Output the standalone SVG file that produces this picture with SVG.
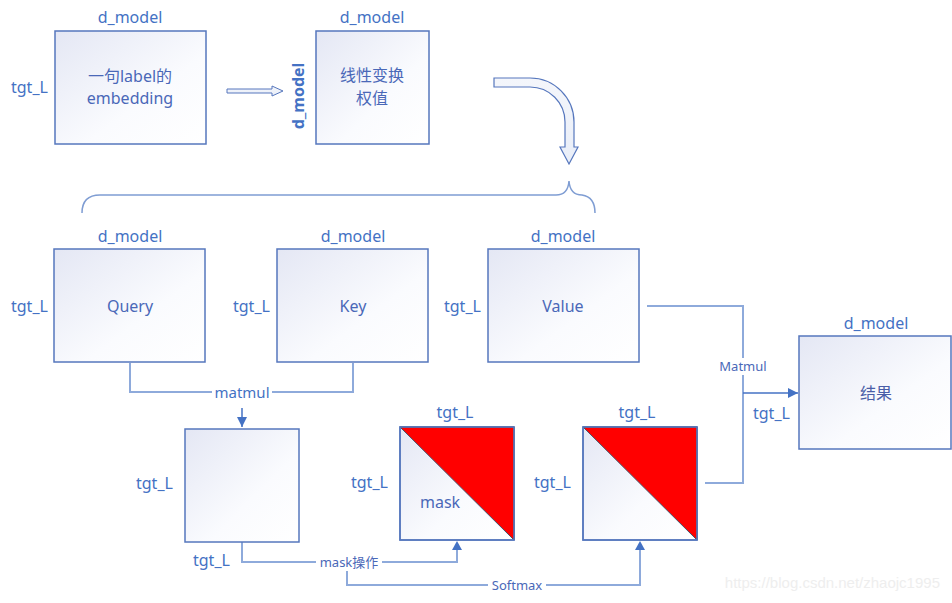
<svg xmlns="http://www.w3.org/2000/svg" width="952" height="603" viewBox="0 0 952 603">
<defs>
<linearGradient id="bg" x1="0" y1="0" x2="1" y2="1">
<stop offset="0" stop-color="#e4e7f4"/>
<stop offset="0.6" stop-color="#fafbfe"/>
<stop offset="1" stop-color="#ffffff"/>
</linearGradient>
<linearGradient id="ag" x1="0" y1="0" x2="0" y2="1">
<stop offset="0" stop-color="#f4f6fb"/>
<stop offset="1" stop-color="#e9eef8"/>
</linearGradient>
<marker id="ah" viewBox="0 0 10 10" refX="10" refY="5" markerWidth="10" markerHeight="10" markerUnits="userSpaceOnUse" orient="auto">
<path d="M0,0 L10,5 L0,10 Z" fill="#4472c4"/>
</marker>
<style>
.box{fill:url(#bg);stroke:#5677bd;stroke-width:1.5}
.lbl{font-family:"Noto Sans","Noto Sans CJK SC",sans-serif;font-size:16px;fill:#4472c4}
.in{font-family:"Noto Sans","Noto Sans CJK SC",sans-serif;font-size:16px;fill:#4a68b8}
.sm{font-family:"Noto Sans","Noto Sans CJK SC",sans-serif;font-size:13px;fill:#4a68b8}
.c{text-anchor:middle}
.ln{fill:none;stroke:#8eaadb;stroke-width:2}
.arr{fill:none;stroke:#4472c4;stroke-width:1.5}
.bgl{fill:#ffffff}
</style>
</defs>
<rect width="952" height="603" fill="#ffffff"/>

<g id="connectors">
<path class="ln" d="M130,363 V392 H353 V363"/>
<rect class="bgl" x="212" y="382" width="60" height="20"/>
<text class="lbl c" x="242" y="398" style="font-size:15px">matmul</text>
<path class="arr" d="M242,408 V427" marker-end="url(#ah)"/>

<path class="ln" d="M242,542 V562 H457 V550"/>
<path d="M457,541 L452,550 L462,550 Z" fill="#4472c4"/>
<path class="ln" d="M347,562 V585 H640 V550"/>
<path d="M640,541 L635,550 L645,550 Z" fill="#4472c4"/>
<rect class="bgl" x="316" y="553" width="66" height="18"/>
<text class="sm c" x="349" y="567">mask操作</text>
<rect class="bgl" x="488" y="577" width="58" height="17"/>
<text class="sm c" x="517" y="590">Softmax</text>

<path class="ln" d="M647,306 H743 V483 H705"/>
<path class="arr" d="M743,393 H798" marker-end="url(#ah)"/>
<rect class="bgl" x="716" y="358" width="54" height="17"/>
<text class="sm c" x="743" y="371">Matmul</text>

<path d="M227,89 H272 V86 L283,91 L272,96 V93 H227 Z" fill="url(#ag)" stroke="#5677bd" stroke-width="1"/>
<path d="M494,78 H530 A44,44 0 0 1 574,122 V147 H578 L569,164 L560,147 H565 V122 A35,35 0 0 0 530,87 H494 Z" fill="url(#ag)" stroke="#5677bd" stroke-width="1.2"/>
<path d="M82,213 Q82,195 100,195 H556 Q568,195 569,181 Q570,195 582,195 Q595,197 595,213" fill="none" stroke="#7f9dd3" stroke-width="1.5"/>
</g>

<g id="embedding">
<rect class="box" x="55" y="31" width="151" height="113"/>
<text class="lbl c" x="130" y="23">d_model</text>
<text class="lbl" x="11" y="93">tgt_L</text>
<text class="in c" x="130" y="82">一句label的</text>
<text class="in c" x="130" y="104">embedding</text>
</g>

<g id="weights">
<rect class="box" x="316" y="31" width="113" height="113"/>
<text class="lbl c" x="372" y="23">d_model</text>
<text class="lbl c" transform="translate(304,96) rotate(-90)" style="font-weight:bold">d_model</text>
<text class="in c" x="372" y="81">线性变换</text>
<text class="in c" x="372" y="104">权值</text>
</g>

<g id="query">
<rect class="box" x="54" y="249" width="151" height="113"/>
<text class="lbl c" x="130" y="242">d_model</text>
<text class="lbl" x="11" y="312">tgt_L</text>
<text class="in c" x="130" y="312">Query</text>
</g>

<g id="key">
<rect class="box" x="277" y="249" width="151" height="113"/>
<text class="lbl c" x="353" y="242">d_model</text>
<text class="lbl" x="233" y="312">tgt_L</text>
<text class="in c" x="353" y="312">Key</text>
</g>

<g id="value">
<rect class="box" x="488" y="249" width="151" height="113"/>
<text class="lbl c" x="563" y="242">d_model</text>
<text class="lbl" x="444" y="312">tgt_L</text>
<text class="in c" x="563" y="312">Value</text>
</g>

<g id="scores">
<rect class="box" x="185" y="429" width="114" height="113"/>
<text class="lbl" x="136" y="489">tgt_L</text>
<text class="lbl" x="193" y="566">tgt_L</text>
</g>

<g id="masked">
<rect class="box" x="400" y="427" width="114" height="113"/>
<path d="M400,427 H514 V540 Z" fill="#ff0000" stroke="#44546a" stroke-width="1"/>
<rect x="400" y="427" width="114" height="113" fill="none" stroke="#5677bd" stroke-width="1.5"/>
<text class="lbl c" x="455" y="418">tgt_L</text>
<text class="lbl" x="351" y="488">tgt_L</text>
<text class="in" x="420" y="508">mask</text>
</g>

<g id="softmax">
<rect class="box" x="583" y="427" width="114" height="113"/>
<path d="M583,427 H697 V540 Z" fill="#ff0000" stroke="#44546a" stroke-width="1"/>
<rect x="583" y="427" width="114" height="113" fill="none" stroke="#5677bd" stroke-width="1.5"/>
<text class="lbl c" x="637" y="418">tgt_L</text>
<text class="lbl" x="534" y="488">tgt_L</text>
</g>

<g id="result">
<rect class="box" x="799" y="336" width="152" height="113"/>
<text class="lbl c" x="876" y="329">d_model</text>
<text class="lbl" x="753" y="419">tgt_L</text>
<text class="in c" x="876" y="399" style="fill:#4a5ea8">结果</text>
</g>

<text x="940" y="588" text-anchor="end" style="font-family:'Liberation Sans',sans-serif;font-size:15px;fill:#eeeeee">https://blog.csdn.net/zhaojc1995</text>
</svg>
